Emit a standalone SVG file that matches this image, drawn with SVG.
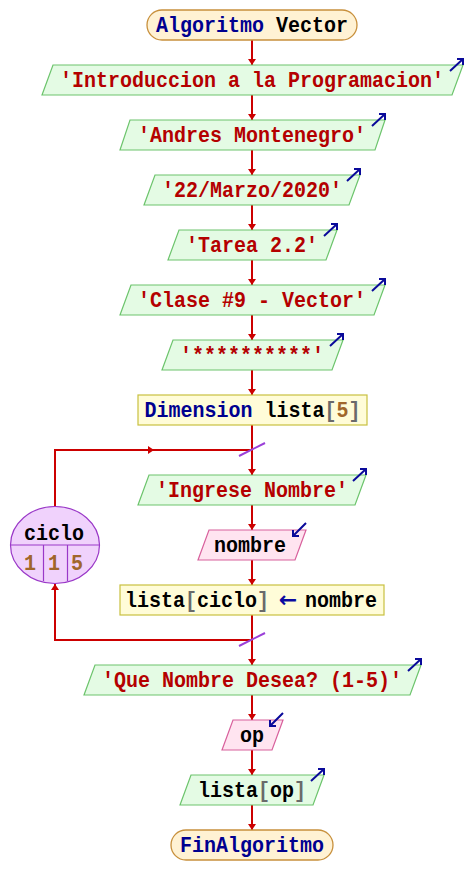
<svg xmlns="http://www.w3.org/2000/svg" width="466" height="895" viewBox="0 0 466 895">
<style>
.term{fill:#fff2d4;stroke:#c8903c;stroke-width:1.3}
.out{fill:#e4fbe4;stroke:#6cc46c;stroke-width:1.2}
.proc{fill:#fffcd8;stroke:#c8c040;stroke-width:1.2}
.in{fill:#ffe4f0;stroke:#d8609c;stroke-width:1.2}
.loop{fill:#f0d2fc;stroke:#9a38c8;stroke-width:1.2}
.dv{stroke:#9a38c8;stroke-width:1.2;fill:none}
.t{font-family:'Liberation Mono','Courier New',monospace;font-size:20px;font-weight:bold;text-anchor:middle}
.kw{fill:#000090}.str{fill:#b40000}.id{fill:#000}.num{fill:#a0662c}.br{fill:#6a6a6a}
.as{fill:#0a0aa0;font-family:'DejaVu Sans',sans-serif;font-size:22px;font-weight:bold}
.c{stroke:#cc0000;stroke-width:2;fill:none}
.ico{stroke:#0a0a9a;stroke-width:2;fill:none}
.sl{stroke:#9a40d8;stroke-width:2}
</style>
<defs>
<marker id="ah" markerWidth="8" markerHeight="8" refX="6" refY="4" orient="auto" markerUnits="userSpaceOnUse"><path d="M0,0 L6,4 L0,8 z" fill="#cc0000"/></marker>
</defs>
<g id="connectors">
<path class="c" marker-end="url(#ah)" d="M252,40 V65"/>
<path class="c" marker-end="url(#ah)" d="M252,95 V120"/>
<path class="c" marker-end="url(#ah)" d="M252,150 V175"/>
<path class="c" marker-end="url(#ah)" d="M252,205 V230"/>
<path class="c" marker-end="url(#ah)" d="M252,260 V285"/>
<path class="c" marker-end="url(#ah)" d="M252,315 V340"/>
<path class="c" marker-end="url(#ah)" d="M252,370 V395"/>
<path class="c" d="M252,425 V450"/>
<path class="c" marker-end="url(#ah)" d="M252,450 V475"/>
<path class="c" marker-end="url(#ah)" d="M252,505 V530"/>
<path class="c" marker-end="url(#ah)" d="M252,560 V585"/>
<path class="c" d="M252,615 V640"/>
<path class="c" marker-end="url(#ah)" d="M252,640 V665"/>
<path class="c" marker-end="url(#ah)" d="M252,695 V720"/>
<path class="c" marker-end="url(#ah)" d="M252,750 V775"/>
<path class="c" marker-end="url(#ah)" d="M252,805 V830"/>
<path class="c" marker-end="url(#ah)" d="M55,506 V450 H154"/>
<path class="c" d="M154,450 H252"/>
<path class="c" marker-end="url(#ah)" d="M252,640 H55 V584"/>
<line class="sl" x1="239" y1="456" x2="265" y2="443"/>
<line class="sl" x1="239" y1="646" x2="265" y2="633"/>
</g>
<g id="start">
<rect class="term" x="147" y="10" width="210" height="30" rx="15"/>
<text class="t" transform="translate(252,31.8) scale(1,1.1)"><tspan class="kw">Algoritmo</tspan> <tspan class="id">Vector</tspan></text>
</g>
<g id="out1">
<polygon class="out" points="53,65 463,65 452,95 42,95"/>
<text class="t str" transform="translate(252,86.5) scale(1,1.1)">'Introduccion a la Programacion'</text>
<path class="ico" d="M450,71 L463,59 M457,59 H463 V65"/>
</g>
<g id="out2">
<polygon class="out" points="130,120 385,120 375,150 120,150"/>
<text class="t str" transform="translate(252,141.5) scale(1,1.1)">'Andres Montenegro'</text>
<path class="ico" d="M372,126 L385,114 M379,114 H385 V120"/>
</g>
<g id="out3">
<polygon class="out" points="155,175 360,175 349,205 144,205"/>
<text class="t str" transform="translate(252,196.5) scale(1,1.1)">'22/Marzo/2020'</text>
<path class="ico" d="M347,181 L360,169 M354,169 H360 V175"/>
</g>
<g id="out4">
<polygon class="out" points="179,230 337,230 326,260 168,260"/>
<text class="t str" transform="translate(252,251.5) scale(1,1.1)">'Tarea 2.2'</text>
<path class="ico" d="M324,236 L337,224 M331,224 H337 V230"/>
</g>
<g id="out5">
<polygon class="out" points="131,285 385,285 374,315 120,315"/>
<text class="t str" transform="translate(252,306.5) scale(1,1.1)">'Clase #9 - Vector'</text>
<path class="ico" d="M372,291 L385,279 M379,279 H385 V285"/>
</g>
<g id="out6">
<polygon class="out" points="173,340 343,340 332,370 162,370"/>
<text class="t str" transform="translate(252,361.5) scale(1,1.1)">'**********'</text>
<path class="ico" d="M330,346 L343,334 M337,334 H343 V340"/>
</g>
<g id="dim">
<rect class="proc" x="138" y="395" width="229" height="30"/>
<text class="t" transform="translate(252.5,416.5) scale(1,1.1)"><tspan class="kw">Dimension</tspan> <tspan class="id">lista</tspan><tspan class="br">[</tspan><tspan class="num">5</tspan><tspan class="br">]</tspan></text>
</g>
<g id="loop">
<ellipse class="loop" cx="55" cy="545" rx="44.5" ry="38.5"/>
<path class="dv" d="M10,545 H100 M43.5,545 V581 M67.5,545 V581"/>
<text class="t id" transform="translate(54,540) scale(1,1.1)">ciclo</text>
<text class="t num" transform="translate(0,570) scale(1,1.1)"><tspan x="30">1</tspan><tspan x="54">1</tspan><tspan x="77">5</tspan></text>
</g>
<g id="out7">
<polygon class="out" points="149,475 366,475 355,505 138,505"/>
<text class="t str" transform="translate(252,496.5) scale(1,1.1)">'Ingrese Nombre'</text>
<path class="ico" d="M353,481 L366,469 M360,469 H366 V475"/>
</g>
<g id="in1">
<polygon class="in" points="209,530 306,530 295,560 198,560"/>
<text class="t id" transform="translate(250,551.5) scale(1,1.1)">nombre</text>
<path class="ico" d="M306,523 L293,536 M293,530 V536 H299"/>
</g>
<g id="assign">
<rect class="proc" x="120" y="585" width="264" height="30"/>
<text class="t" transform="translate(0,606.5) scale(1,1.1)"><tspan x="197" class="id">lista</tspan><tspan class="br">[</tspan><tspan class="id">ciclo</tspan><tspan class="br">]</tspan></text>
<text class="as" x="288" y="606.5" text-anchor="middle">←</text>
<text class="t id" transform="translate(341,606.5) scale(1,1.1)">nombre</text>
</g>
<g id="out8">
<polygon class="out" points="95,665 421,665 410,695 84,695"/>
<text class="t str" transform="translate(252,686.5) scale(1,1.1)">'Que Nombre Desea? (1-5)'</text>
<path class="ico" d="M408,671 L421,659 M415,659 H421 V665"/>
</g>
<g id="in2">
<polygon class="in" points="233,720 283,720 272,750 222,750"/>
<text class="t id" transform="translate(252,741.5) scale(1,1.1)">op</text>
<path class="ico" d="M283,713 L270,726 M270,720 V726 H276"/>
</g>
<g id="out9">
<polygon class="out" points="191,775 324,775 313,805 180,805"/>
<text class="t" transform="translate(252,796.5) scale(1,1.1)"><tspan class="id">lista</tspan><tspan class="br">[</tspan><tspan class="id">op</tspan><tspan class="br">]</tspan></text>
<path class="ico" d="M311,781 L324,769 M318,769 H324 V775"/>
</g>
<g id="end">
<rect class="term" x="171" y="830" width="162" height="30" rx="15"/>
<text class="t kw" transform="translate(252,851.5) scale(1,1.1)">FinAlgoritmo</text>
</g>
</svg>
